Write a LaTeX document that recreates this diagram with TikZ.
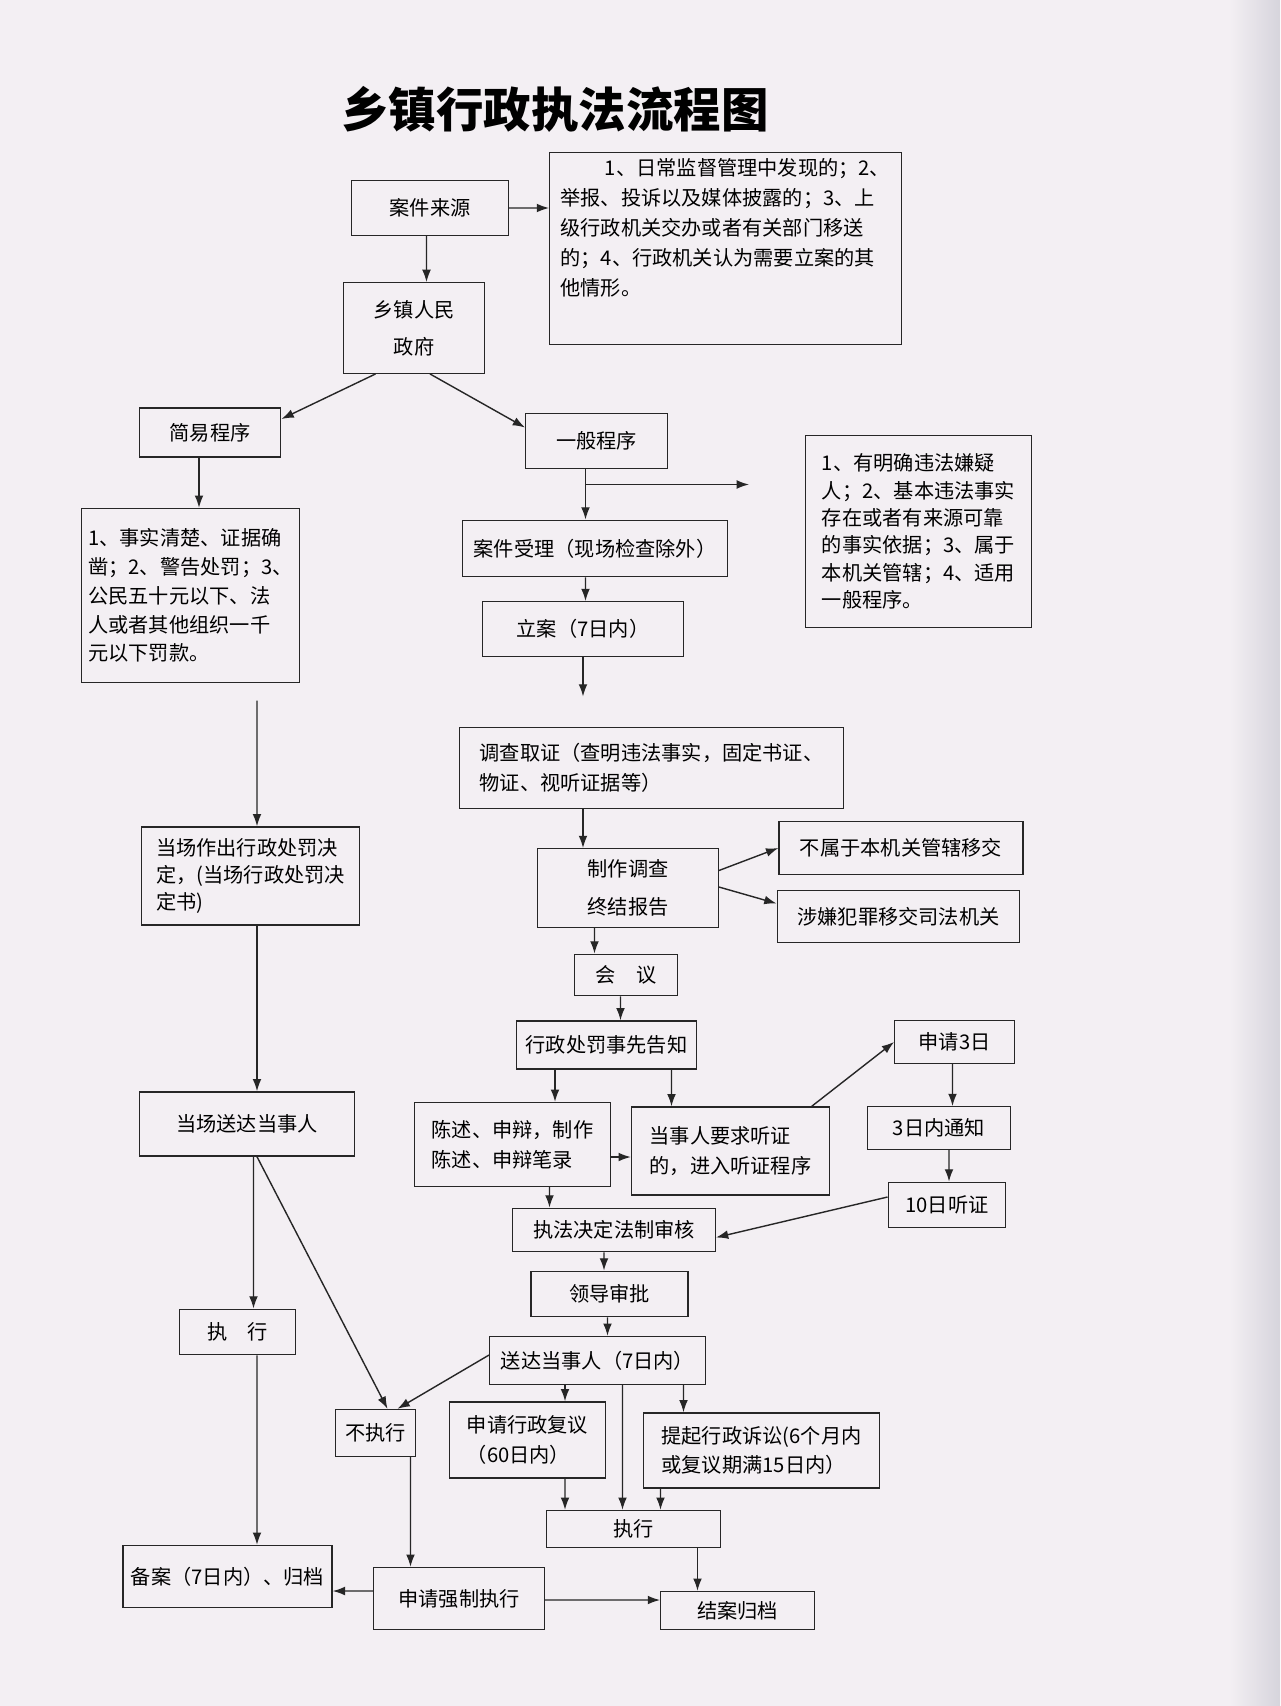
\documentclass[tikz,border=0pt]{standalone}
\usepackage{fontspec}
\setmainfont{Noto Sans CJK SC}
\usetikzlibrary{arrows.meta,positioning}
\definecolor{paper}{RGB}{243,239,243}
\definecolor{screenedge}{RGB}{214,212,220}

\begin{document}
\begin{tikzpicture}[
    font=\fontsize{11.5}{17}\selectfont,
    >=Latex,
    blk/.style={draw=black!85, line width=0.8pt, align=center, inner sep=2pt},
    noteblk/.style={blk, align=left},
    arr/.style={-{Latex[length=7pt,width=5pt]}, line width=0.8pt, draw=black!85}
  ]

  % --- PAPER ---
  \fill[paper] (0,0) rectangle (25.6,-34.12);
  \shade[left color=paper, right color=screenedge] (24.6,0) rectangle (25.6,-34.12);
  \useasboundingbox (0,0) rectangle (25.6,-34.12);

  \node[font=\fontsize{27}{30}\selectfont\bfseries] (title) at (11.10,-2.18) {乡镇行政执法流程图};

  % --- CASE SOURCE ---
  \node[blk, minimum width=3.14cm, minimum height=1.09cm] (case_src) at (8.60,-4.16) {案件来源};
  \node[blk, minimum width=7.03cm, minimum height=3.85cm, inner sep=0.12cm] (src_note) at (14.51,-4.97) {\parbox[c][3.6cm][t]{6.6cm}{\hspace*{2.2em}1、日常监督管理中发现的；2、\\举报、投诉以及媒体披露的；3、上\\级行政机关交办或者有关部门移送\\的；4、行政机关认为需要立案的其\\他情形。}};
  \node[blk, minimum width=2.81cm, minimum height=1.81cm] (town_gov) at (8.28,-6.56) {乡镇人民\\[4pt]政府};

  % --- SIMPLE PROCEDURE ---
  \node[blk, minimum width=2.83cm, minimum height=0.98cm] (simple_proc) at (4.20,-8.65) {简易程序};
  \node[noteblk, minimum width=4.35cm, minimum height=3.48cm, font=\fontsize{11.5}{16.4}\selectfont] (simple_note) at (3.81,-11.91) {1、事实清楚、证据确\\凿；2、警告处罚；3、\\公民五十元以下、法\\人或者其他组织一千\\元以下罚款。};
  \node[noteblk, minimum width=4.35cm, minimum height=1.96cm, font=\fontsize{11.5}{15.5}\selectfont] (onsite) at (5.01,-17.52) {当场作出行政处罚决\\定，(当场行政处罚决\\定书)};
  \node[blk, minimum width=4.31cm, minimum height=1.28cm] (on_deliver) at (4.94,-22.48) {当场送达当事人};
  \node[blk, minimum width=2.31cm, minimum height=0.91cm] (exec_left) at (4.75,-26.64) {执\quad 行};

  % --- GENERAL PROCEDURE ---
  \node[blk, minimum width=2.83cm, minimum height=1.09cm] (gen_proc) at (11.93,-8.82) {一般程序};
  \node[noteblk, minimum width=4.53cm, minimum height=3.85cm, font=\fontsize{11.5}{15.6}\selectfont] (crit_note) at (18.37,-10.63) {1、有明确违法嫌疑\\人；2、基本违法事实\\存在或者有来源可靠\\的事实依据；3、属于\\本机关管辖；4、适用\\一般程序。};
  \node[blk, minimum width=5.29cm, minimum height=1.13cm] (accept) at (11.90,-10.97) {案件受理（现场检查除外）};
  \node[blk, minimum width=4.03cm, minimum height=1.09cm] (file_case) at (11.66,-12.58) {立案（7日内）};
  \node[noteblk, minimum width=7.68cm, minimum height=1.63cm] (investigate) at (13.03,-15.36) {调查取证（查明违法事实，固定书证、\\物证、视听证据等）};
  \node[blk, minimum width=3.61cm, minimum height=1.57cm] (report) at (12.56,-17.76) {制作调查\\[5pt]终结报告};
  \node[blk, minimum width=4.88cm, minimum height=1.05cm] (not_jur) at (18.02,-16.96) {不属于本机关管辖移交};
  \node[blk, minimum width=4.85cm, minimum height=1.05cm] (crime) at (17.97,-18.33) {涉嫌犯罪移交司法机关};
  \node[blk, minimum width=2.05cm, minimum height=0.83cm] (meeting) at (12.52,-19.50) {会\quad 议};
  \node[blk, minimum width=3.61cm, minimum height=0.96cm] (notify) at (12.13,-20.90) {行政处罚事先告知};
  \node[noteblk, minimum width=3.92cm, minimum height=1.68cm] (statement) at (10.25,-22.89) {陈述、申辩，制作\\陈述、申辩笔录};
  \node[noteblk, minimum width=3.96cm, minimum height=1.76cm] (hear_req) at (14.61,-23.02) {当事人要求听证\\的，进入听证程序};

  % --- HEARING ---
  \node[blk, minimum width=2.39cm, minimum height=0.85cm] (apply3) at (19.09,-20.84) {申请3日};
  \node[blk, minimum width=2.85cm, minimum height=0.85cm] (notice3) at (18.78,-22.56) {3日内通知};
  \node[blk, minimum width=2.35cm, minimum height=0.91cm] (hear10) at (18.94,-24.10) {10日听证};

  % --- DECISION ---
  \node[blk, minimum width=4.05cm, minimum height=0.87cm] (legal_rev) at (12.28,-24.60) {执法决定法制审核};
  \node[blk, minimum width=3.14cm, minimum height=0.91cm] (approve) at (12.19,-25.88) {领导审批};
  \node[blk, minimum width=4.31cm, minimum height=0.96cm] (deliver) at (11.95,-27.21) {送达当事人（7日内）};
  \node[blk, minimum width=1.61cm, minimum height=0.94cm] (no_exec) at (7.51,-28.66) {不执行};
  \node[noteblk, minimum width=3.11cm, minimum height=1.52cm] (review) at (10.55,-28.80) {申请行政复议\\（60日内）};
  \node[noteblk, minimum width=4.72cm, minimum height=1.50cm] (suit) at (15.23,-29.01) {提起行政诉讼(6个月内\\或复议期满15日内）};
  \node[blk, minimum width=3.48cm, minimum height=0.74cm] (exec_final) at (12.67,-30.58) {执行};
  \node[blk, minimum width=3.42cm, minimum height=1.24cm] (enforce) at (9.18,-31.97) {申请强制执行};
  \node[blk, minimum width=4.18cm, minimum height=1.24cm] (archive) at (4.55,-31.53) {备案（7日内）、归档};
  \node[blk, minimum width=3.07cm, minimum height=0.76cm] (close_case) at (14.75,-32.21) {结案归档};

  \coordinate (gen_split) at (11.71,-9.69);
  \coordinate (gen_open) at (14.98,-9.69);

  % --- CONNECTIONS ---

  % Source
  \draw[arr] (case_src.east) -- ([yshift=0.81cm]src_note.west);
  \draw[arr] ([xshift=-0.07cm]case_src.south) -- ([xshift=0.25cm]town_gov.north);
  \draw[arr] ([xshift=-0.77cm]town_gov.south) -- ([yshift=0.27cm]simple_proc.east);
  \draw[arr] ([xshift=0.32cm]town_gov.south) -- ([yshift=0.27cm]gen_proc.west);

  % Simple procedure
  \draw[arr] ([xshift=-0.22cm]simple_proc.south) -- ([xshift=0.17cm]simple_note.north);
  \draw[arr, shorten <=0.35cm] ([xshift=1.33cm]simple_note.south) -- ([xshift=0.13cm]onsite.north);
  \draw[arr] ([xshift=0.13cm]onsite.south) -- ([xshift=0.20cm]on_deliver.north);
  \draw[arr] ([xshift=0.13cm]on_deliver.south) -- ([xshift=0.32cm]exec_left.north);
  \draw[arr] ([xshift=0.20cm]on_deliver.south) -- ([xshift=0.24cm]no_exec.north);
  \draw[arr] ([xshift=0.39cm]exec_left.south) -- ([xshift=0.59cm]archive.north);

  % General procedure
  \draw[arr] ([xshift=-0.22cm]gen_proc.south) -- ([xshift=-0.19cm]accept.north);
  \draw[arr] (gen_split) -- (gen_open);
  \draw[arr] ([xshift=-0.19cm]accept.south) -- ([xshift=0.05cm]file_case.north);
  \draw[arr, shorten >=0.6cm] (file_case.south) -- ([xshift=-1.37cm]investigate.north);
  \draw[arr] ([xshift=-1.37cm]investigate.south) -- ([xshift=-0.90cm]report.north);
  \draw[arr] ([yshift=0.35cm]report.east) -- (not_jur.west);
  \draw[arr] ([yshift=0.02cm]report.east) -- ([yshift=0.26cm]crime.west);
  \draw[arr] ([xshift=-0.67cm]report.south) -- ([xshift=-0.63cm]meeting.north);
  \draw[arr] ([xshift=-0.11cm]meeting.south) -- ([xshift=0.28cm]notify.north);
  \draw[arr] ([xshift=-1.03cm]notify.south) -- ([xshift=0.85cm]statement.north);
  \draw[arr] ([xshift=1.30cm]notify.south) -- ([xshift=-1.18cm]hear_req.north);
  \draw[arr] ([yshift=-0.25cm]statement.east) -- ([yshift=-0.12cm]hear_req.west);

  % Hearing
  \draw[arr] ([xshift=-0.37cm]hear_req.north east) -- (apply3.west);
  \draw[arr] ([xshift=-0.04cm]apply3.south) -- ([xshift=0.27cm]notice3.north);
  \draw[arr] ([xshift=0.20cm]notice3.south) -- ([xshift=0.04cm]hear10.north);
  \draw[arr] ([yshift=0.16cm]hear10.west) -- ([yshift=-0.15cm]legal_rev.east);

  % Decision and execution
  \draw[arr] ([xshift=0.74cm]statement.south) -- ([xshift=-1.29cm]legal_rev.north);
  \draw[arr] ([xshift=-0.20cm]legal_rev.south) -- ([xshift=-0.11cm]approve.north);
  \draw[arr] ([xshift=-0.04cm]approve.south) -- ([xshift=0.20cm]deliver.north);
  \draw[arr] ([yshift=0.11cm]deliver.west) -- ([xshift=0.44cm]no_exec.north);
  \draw[arr] ([xshift=-0.65cm]deliver.south) -- ([xshift=0.75cm]review.north);
  \draw[arr] ([xshift=0.50cm]deliver.south) -- ([xshift=-0.22cm]exec_final.north);
  \draw[arr] ([xshift=1.72cm]deliver.south) -- ([xshift=-1.56cm]suit.north);
  \draw[arr] ([xshift=0.75cm]review.south) -- ([xshift=-1.37cm]exec_final.north);
  \draw[arr] ([xshift=-2.02cm]suit.south) -- ([xshift=0.54cm]exec_final.north);
  \draw[arr] ([xshift=1.28cm]exec_final.south) -- ([xshift=-0.80cm]close_case.north);
  \draw[arr] ([xshift=0.70cm]no_exec.south) -- ([xshift=-0.97cm]enforce.north);
  \draw[arr] ([yshift=0.15cm]enforce.west) -- ([yshift=-0.29cm]archive.east);
  \draw[arr] ([yshift=-0.03cm]enforce.east) -- ([yshift=0.21cm]close_case.west);

\end{tikzpicture}
\end{document}
